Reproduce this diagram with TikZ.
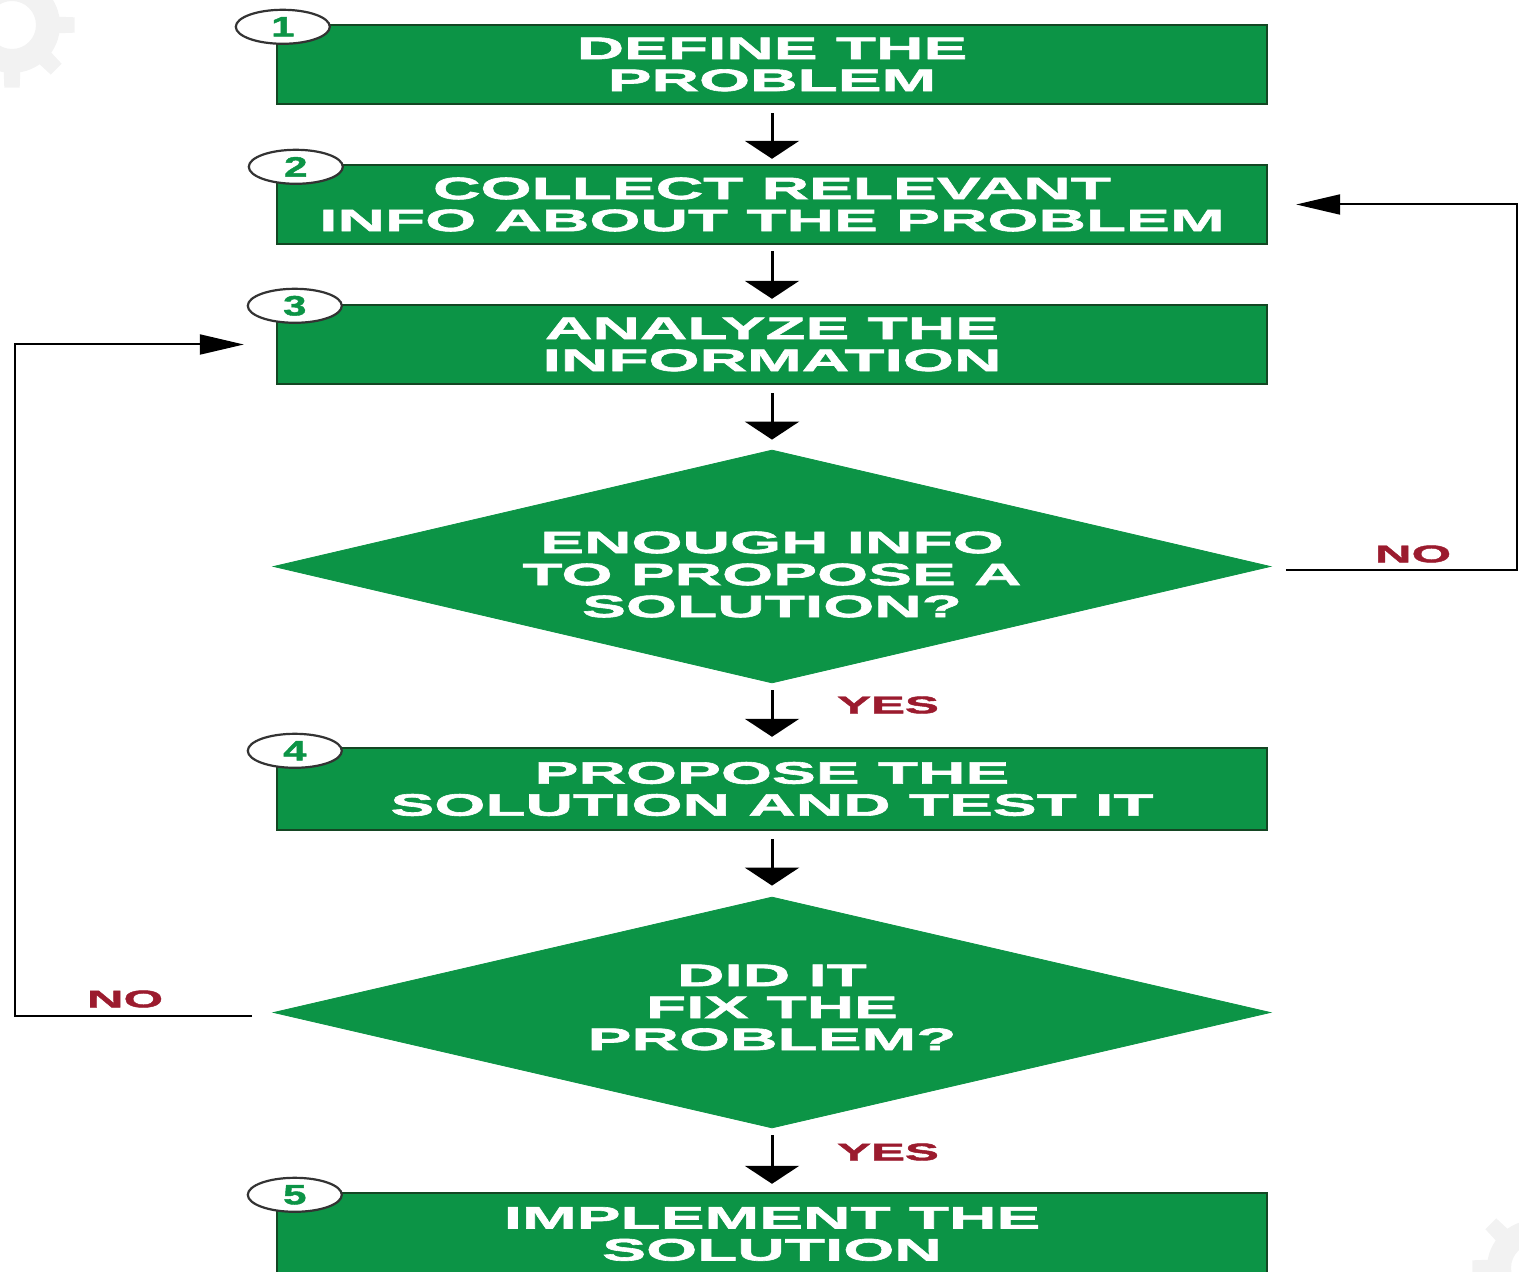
\documentclass[tikz,border=0pt]{standalone}
\usepackage{fontspec}
\setmainfont{Liberation Sans}
\newfontfamily\boxfont[FakeStretch=2.12,FakeBold=2]{Liberation Sans}
\newfontfamily\numfont[FakeStretch=1.5,FakeBold=1.5]{Liberation Sans}
\usetikzlibrary{shapes.geometric,arrows.meta,calc}
\definecolor{boxgreen}{RGB}{12,148,70}
\definecolor{edgegreen}{RGB}{20,70,35}
\definecolor{labred}{RGB}{155,27,46}
\definecolor{gearc}{RGB}{242,242,242}
\tikzset{
  stepbox/.style={draw=edgegreen, line width=1.2pt, fill=boxgreen, minimum width=495pt,
    minimum height=39.5pt, inner sep=0pt, text=white, align=center,
    font=\boxfont\bfseries\fontsize{15.5}{16}\selectfont},
  decision/.style={diamond, aspect=4.28, draw=boxgreen, fill=boxgreen, minimum width=498.5pt,
    minimum height=116.5pt, inner sep=0pt},
  dtext/.style={inner sep=0pt, text=white, align=center,
    font=\boxfont\bfseries\fontsize{15.5}{16}\selectfont},
  num/.style={ellipse, draw=black!80, line width=1.1pt, fill=white, minimum width=47pt,
    minimum height=17pt, inner sep=0pt, text=boxgreen,
    font=\numfont\bfseries\fontsize{14}{14}\selectfont},
  flow/.style={-{Triangle[width=27pt,length=9pt]}, line width=1.5pt},
  back/.style={-{Triangle[width=10pt,length=22pt]}, line width=1pt},
  lab/.style={text=labred, inner sep=0pt, font=\boxfont\bfseries\fontsize{12}{13}\selectfont}
}
\begin{document}
\begin{tikzpicture}[x=0.5pt,y=-0.5pt]
\useasboundingbox (0,0) rectangle (1519,1272);
\clip (0,0) rectangle (1519,1272);
% faint gear watermarks
\foreach \cx/\cy in {12/25, 1535/1268}{
  \fill[gearc, even odd rule] (\cx,\cy) circle[radius=48] (\cx,\cy) circle[radius=24];
  \foreach \a in {0,45,...,315}
    \fill[gearc] ($(\cx,\cy)+(\a-11:44)$) -- ($(\cx,\cy)+(\a-7:63)$) -- ($(\cx,\cy)+(\a+7:63)$) -- ($(\cx,\cy)+(\a+11:44)$) -- cycle;
}
% boxes
\node[stepbox] (b1) at (772,64.5) {DEFINE THE\\PROBLEM};
\node[stepbox] (b2) at (772,204.5) {COLLECT RELEVANT\\INFO ABOUT THE PROBLEM};
\node[stepbox] (b3) at (772,344.5) {ANALYZE THE\\INFORMATION};
\node[decision] (d1) at (772,566.5) {};
\node[dtext] (t1) at ([yshift=-4pt]d1.center) {ENOUGH INFO\\TO PROPOSE A\\SOLUTION?};
\node[stepbox, minimum height=41pt] (b4) at (772,789) {PROPOSE THE\\SOLUTION AND TEST IT};
\node[decision, minimum height=115.5pt] (d2) at (772,1012.5) {};
\node[dtext] (t2) at ([yshift=2.5pt]d2.center) {DID IT\\FIX THE\\PROBLEM?};
\node[stepbox, minimum height=41pt] (b5) at (772,1234) {IMPLEMENT THE\\SOLUTION};
% number badges
\node[num] (n1) at ([xshift=3.5pt,yshift=-1.5pt]b1.north west) {1};
\node[num] (n2) at ([xshift=10pt,yshift=-1.5pt]b2.north west) {2};
\node[num] (n3) at ([xshift=9.5pt,yshift=-1pt]b3.north west) {3};
\node[num] (n4) at ([xshift=9.5pt,yshift=-2pt]b4.north west) {4};
\node[num] (n5) at ([xshift=9.5pt,yshift=-1.5pt]b5.north west) {5};
% main flow
\draw[flow, shorten <=4pt, shorten >=2.5pt] (b1) -- (b2);
\draw[flow, shorten <=3pt, shorten >=2.5pt] (b2) -- (b3);
\draw[flow, shorten <=4pt, shorten >=5pt] (b3) -- (d1);
\draw[flow, shorten <=3.5pt, shorten >=5pt] (d1) -- (b4);
\draw[flow, shorten <=4pt, shorten >=5.5pt] (b4) -- (d2);
\draw[flow, shorten <=3.5pt, shorten >=4pt] (d2) -- (b5);
% loops
\coordinate (rr) at (1517,204.5);
\coordinate (ll) at (15,344.5);
\draw[back] ([xshift=7.5pt,yshift=-1.5pt]d1.east) -| (rr) -- ([xshift=14pt]b2.east);
\draw[back] ([xshift=-10.5pt,yshift=-1.5pt]d2.west) -| (ll) -- ([xshift=-16pt]b3.west);
% labels
\node[lab] (no1) at (1413,554) {NO};
\node[lab] (no2) at (125,999) {NO};
\node[lab] (yes1) at (888,705) {YES};
\node[lab] (yes2) at (888,1152) {YES};
\end{tikzpicture}
\end{document}
